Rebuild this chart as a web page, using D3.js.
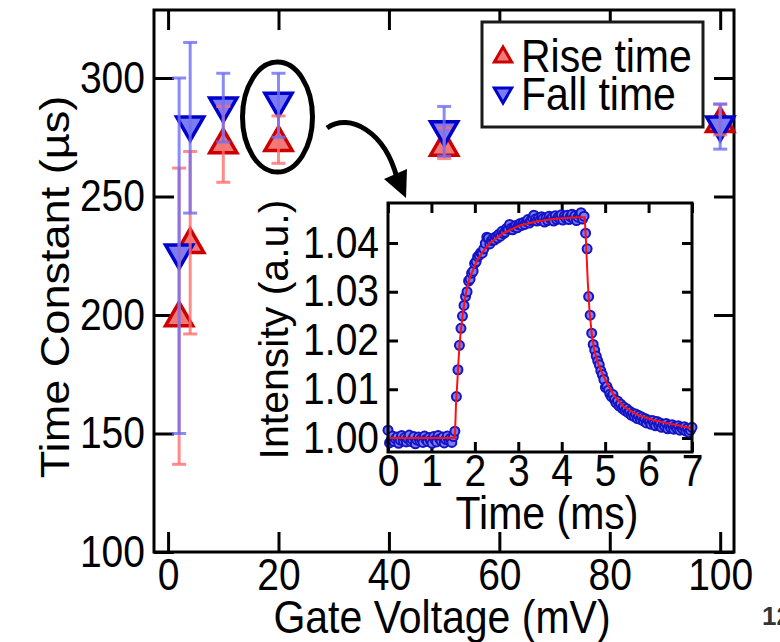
<!DOCTYPE html>
<html><head><meta charset="utf-8">
<script src="https://cdn.jsdelivr.net/npm/d3@7"></script>
<style>
body{margin:0;background:#fff;}
svg{display:block;}
text{font-family:"Liberation Sans",Arial,Helvetica,sans-serif;fill:#000;}
</style></head>
<body><svg id="chart" width="780" height="642"></svg>
<script>
// ---------- main plot data ----------
const gateVoltage = [2, 4, 10, 20, 50, 100];
const riseTime     = [200, 231, 273, 274, 272, 282];
const riseErrLow   = [137, 192, 256, 264, 266, 276];
const riseErrHigh  = [262, 269, 288, 284, 279, 289];
const fallVoltage  = [2, 4, 10, 20, 50, 100];
const fallTime     = [225, 279, 287, 289, 277, 279];
const fallErrLow   = [150, 243, 273, 275, 267, 270];
const fallErrHigh  = [300, 315, 302, 302, 288, 289];
const xTicks = [0, 20, 40, 60, 80, 100];
const yTicks = [100, 150, 200, 250, 300];
const legendLabels = ["Rise time", "Fall time"];

// ---------- inset data ----------
const insetStartTime = 0;      // ms
const insetStep = 0.035;       // ms between samples
const insetIntensity = [
1.0016,0.9990,0.9995,1.0004,0.9993,0.9998,1.0002,0.9989,0.9996,1.0005,
0.9994,1.0001,0.9992,0.9999,1.0006,0.9993,0.9997,1.0003,0.9988,0.9996,
1.0002,0.9994,0.9999,0.9991,1.0004,0.9997,0.9993,1.0001,0.9995,0.9989,
1.0003,0.9996,0.9992,1.0005,0.9998,0.9994,1.0002,0.9990,0.9997,1.0004,
0.9995,0.9999,0.9991,1.0003,1.0014,1.0085,1.0140,1.0190,1.0225,1.0250,
1.0272,1.0290,1.0300,1.0322,1.0326,1.0338,1.0342,1.0358,1.0362,1.0372,
1.0375,1.0380,1.0379,1.0388,1.0399,1.0412,1.0410,1.0398,1.0405,1.0409,
1.0406,1.0413,1.0410,1.0418,1.0414,1.0424,1.0419,1.0422,1.0430,1.0428,
1.0438,1.0430,1.0427,1.0433,1.0436,1.0431,1.0437,1.0440,1.0436,1.0442,
1.0438,1.0444,1.0448,1.0441,1.0446,1.0452,1.0457,1.0449,1.0445,1.0451,
1.0447,1.0454,1.0450,1.0443,1.0452,1.0446,1.0455,1.0449,1.0452,1.0445,
1.0456,1.0448,1.0453,1.0450,1.0458,1.0447,1.0455,1.0451,1.0457,1.0448,
1.0454,1.0459,1.0450,1.0456,1.0446,1.0453,1.0458,1.0462,1.0449,1.0455,
1.0420,1.0388,1.0290,1.0252,1.0215,1.0192,1.0180,1.0168,1.0158,1.0150,
1.0138,1.0130,1.0120,1.0104,1.0106,1.0098,1.0090,1.0085,1.0089,1.0079,
1.0072,1.0076,1.0066,1.0070,1.0061,1.0064,1.0056,1.0060,1.0052,1.0055,
1.0047,1.0051,1.0044,1.0049,1.0040,1.0046,1.0038,1.0043,1.0035,1.0040,
1.0031,1.0037,1.0033,1.0028,1.0036,1.0030,1.0025,1.0034,1.0027,1.0031,
1.0022,1.0028,1.0024,1.0030,1.0019,1.0026,1.0021,1.0027,1.0018,1.0024,
1.0020,1.0025,1.0016,1.0022,1.0018,1.0023,1.0014,1.0020,1.0012,1.0016,
1.0022];
const fitTime = [0,1.54,1.565,1.60,1.62,1.65,1.69,1.73,1.77,1.81,1.88,1.96,2.04,2.19,2.35,2.65,3.04,3.42,3.81,4.19,4.50,4.53,
                 4.56,4.60,4.64,4.69,4.75,4.83,4.92,5.04,5.2,5.42,5.73,6.1,6.5,7.0];
const fitIntensity = [1.0000,1.0000,1.0068,1.0120,1.0154,1.0195,1.0229,1.0260,1.0284,1.0304,1.0328,1.0345,1.0362,1.0383,1.0400,1.0420,1.0436,1.0444,1.0449,1.0452,1.0453,1.0453,
                 1.0400,1.0320,1.0260,1.0215,1.0180,1.0155,1.0135,1.0113,1.0088,1.0065,1.0048,1.0037,1.0029,1.0020];
const insetXTicks = [0,1,2,3,4,5,6,7];
const insetYTicks = [1.00,1.01,1.02,1.03,1.04];

// ---------- drawing ----------
const svg = d3.select("#chart");
svg.append("rect").attr("width",780).attr("height",642).attr("fill","#fff");
const K = 1.13; // glyphs in the reference are taller than they are wide

function stretch(sel){
  sel.each(function(){
    const b = this.getBBox();
    const cy = b.y + b.height/2;
    const prev = this.getAttribute("transform") || "";
    this.setAttribute("transform", prev + ` translate(0,${cy}) scale(1,${K}) translate(0,${-cy})`);
  });
}

const L=154, R=734, T=10, B=552;
const x = d3.scaleLinear().domain([-2.55,102.5]).range([L,R]);
const y = d3.scaleLinear().domain([100,328.7]).range([B,T]);

const FS = 39, LFS = 41;
function styleAxis(g){
  g.select(".domain").remove();
  g.selectAll(".tick line").attr("stroke","#000").attr("stroke-width",3);
  g.selectAll(".tick text").style("font-size",FS+"px").call(stretch);
}
svg.append("g").attr("transform",`translate(0,${B})`)
  .call(d3.axisBottom(x).tickValues(xTicks).tickSize(-20).tickPadding(9)).call(styleAxis);
svg.append("g").attr("transform",`translate(0,${T})`)
  .call(d3.axisTop(x).tickValues(xTicks).tickSize(-20).tickFormat("")).call(styleAxis);
svg.append("g").attr("transform",`translate(${L},0)`)
  .call(d3.axisLeft(y).tickValues(yTicks).tickSize(-20).tickPadding(9)).call(styleAxis);
svg.append("g").attr("transform",`translate(${R},0)`)
  .call(d3.axisRight(y).tickValues(yTicks).tickSize(-20).tickFormat("")).call(styleAxis);
svg.append("rect").attr("x",L).attr("y",T).attr("width",R-L).attr("height",B-T)
  .attr("fill","none").attr("stroke","#000").attr("stroke-width",3);

// axis titles
svg.append("text").attr("x",(L+R)/2-2).attr("y",631).attr("text-anchor","middle")
  .style("font-size",LFS+"px").text("Gate Voltage (mV)").call(stretch);
svg.append("text").attr("transform",`translate(69,${(T+B)/2+6}) scale(1,1.1) rotate(-90)`).attr("text-anchor","middle")
  .style("font-size",LFS+"px").text("Time Constant (µs)");

// markers
const tri = d3.symbol().type(d3.symbolTriangle).size(320);
const riseData = gateVoltage.map((v,i)=>({x:v,y:riseTime[i],lo:riseErrLow[i],hi:riseErrHigh[i]}));
const fallData = fallVoltage.map((v,i)=>({x:v,y:fallTime[i],lo:fallErrLow[i],hi:fallErrHigh[i]}));
const redDark="#cc0000", redFill="#f07a7a", redErr="rgba(255,110,110,0.8)";
const blueDark="#0000cc", blueFill="#7c7cf5", blueErr="rgba(110,110,245,0.8)";

svg.append("g").selectAll("path").data(riseData).join("path")
  .attr("d",tri).attr("transform",d=>`translate(${x(d.x)},${y(d.y)+3})`)
  .attr("fill",redFill).attr("stroke",redDark).attr("stroke-width",3.5);
svg.append("g").selectAll("path").data(fallData).join("path")
  .attr("d",tri).attr("transform",d=>`translate(${x(d.x)},${y(d.y)-3}) rotate(180)`)
  .attr("fill",blueFill).attr("stroke",blueDark).attr("stroke-width",3.5);

function errBars(data,color){
  const g=svg.append("g").attr("stroke",color).attr("stroke-width",3).attr("fill","none");
  g.selectAll(".v").data(data).join("line")
    .attr("x1",d=>x(d.x)).attr("x2",d=>x(d.x)).attr("y1",d=>y(d.lo)).attr("y2",d=>y(d.hi));
  g.selectAll(".lo").data(data).join("line")
    .attr("x1",d=>x(d.x)-7).attr("x2",d=>x(d.x)+7).attr("y1",d=>y(d.lo)).attr("y2",d=>y(d.lo));
  g.selectAll(".hi").data(data).join("line")
    .attr("x1",d=>x(d.x)-7).attr("x2",d=>x(d.x)+7).attr("y1",d=>y(d.hi)).attr("y2",d=>y(d.hi));
}
errBars(riseData,redErr);
errBars(fallData,blueErr);

// legend
const lg = svg.append("g");
lg.append("rect").attr("x",482).attr("y",22).attr("width",221).attr("height",105)
  .attr("fill","#fff").attr("stroke","#1a1a1a").attr("stroke-width",3);
const tri2 = d3.symbol().type(d3.symbolTriangle).size(130);
lg.append("path").attr("d",tri2).attr("transform","translate(503,57)")
  .attr("fill",redFill).attr("stroke",redDark).attr("stroke-width",3);
lg.append("path").attr("d",tri2).attr("transform","translate(503,93) rotate(180)")
  .attr("fill",blueFill).attr("stroke",blueDark).attr("stroke-width",3);
lg.append("text").attr("x",521).attr("y",70).style("font-size",LFS+"px").text(legendLabels[0]).call(stretch);
lg.append("text").attr("x",521).attr("y",108).style("font-size",LFS+"px").text(legendLabels[1]).call(stretch);

// annotation ellipse + arrow
svg.append("ellipse").attr("cx",x(20)-1).attr("cy",y(283.5)).attr("rx",35).attr("ry",55)
  .attr("fill","none").attr("stroke","#000").attr("stroke-width",5);
svg.append("path").attr("d","M327,128 C350,112 385,132 397,178")
  .attr("fill","none").attr("stroke","#000").attr("stroke-width",5);
svg.append("path").attr("d","M406,198 L384,179 L407,169 Z").attr("fill","#000");

// ---------- inset ----------
const iL=388, iR=692, iT=203, iB=452;
const ix = d3.scaleLinear().domain([0,7]).range([iL,iR]);
const iy = d3.scaleLinear().domain([0.99713,1.0482]).range([iB,iT]);
svg.append("rect").attr("x",iL).attr("y",iT).attr("width",iR-iL).attr("height",iB-iT).attr("fill","#fff");
svg.append("g").attr("transform",`translate(0,${iB})`)
  .call(d3.axisBottom(ix).tickValues(insetXTicks).tickSize(-10).tickPadding(5).tickFormat(d3.format("d"))).call(styleAxis);
svg.append("g").attr("transform",`translate(0,${iT})`)
  .call(d3.axisTop(ix).tickValues(insetXTicks).tickSize(-10).tickFormat("")).call(styleAxis);
svg.append("g").attr("transform",`translate(${iL},0)`)
  .call(d3.axisLeft(iy).tickValues(insetYTicks).tickSize(-10).tickPadding(9).tickFormat(d3.format(".2f"))).call(styleAxis);
svg.append("g").attr("transform",`translate(${iR},0)`)
  .call(d3.axisRight(iy).tickValues(insetYTicks).tickSize(-10).tickFormat("")).call(styleAxis);

const pts = insetIntensity.map((v,i)=>({t:insetStartTime+i*insetStep,v}));
svg.append("g").selectAll("circle").data(pts).join("circle")
  .attr("cx",d=>ix(d.t)).attr("cy",d=>iy(d.v)).attr("r",4.5)
  .attr("fill","#7d7df0").attr("stroke","#1414c4").attr("stroke-width",2);
const line = d3.line().x(d=>ix(d[0])).y(d=>iy(d[1]));
svg.append("path").datum(fitTime.map((t,i)=>[t,fitIntensity[i]])).attr("d",line)
  .attr("fill","none").attr("stroke","#ff1010").attr("stroke-width",2);
svg.append("rect").attr("x",iL).attr("y",iT).attr("width",iR-iL).attr("height",iB-iT)
  .attr("fill","none").attr("stroke","#000").attr("stroke-width",3);

svg.append("text").attr("x",(iL+iR)/2+7).attr("y",527).attr("text-anchor","middle")
  .style("font-size",LFS+"px").text("Time (ms)").call(stretch);
svg.append("text").attr("transform",`translate(288,${(iT+iB)/2+2}) rotate(-90)`).attr("text-anchor","middle")
  .style("font-size",LFS+"px").text("Intensity (a.u.)");

// page number fragment
svg.append("text").attr("x",762).attr("y",625).style("font-size","26px").style("font-weight","bold")
  .style("fill","#333").text("12");
</script></body></html>
